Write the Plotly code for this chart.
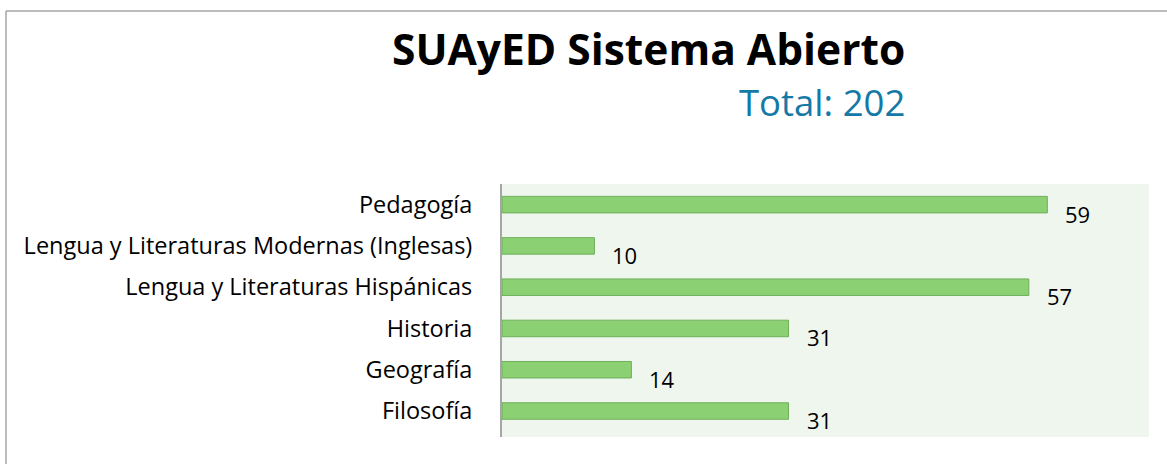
import plotly.graph_objects as go

categories = ["Filosofía", "Geografía", "Historia", "Lengua y Literaturas Hispánicas",
              "Lengua y Literaturas Modernas (Inglesas)", "Pedagogía"]
values = [31, 14, 31, 57, 10, 59]
title_text = "SUAyED Sistema Abierto"
subtitle_text = "Total: 202"

FONT = "Open Sans"
W, H = 1167, 464
L, R, T, B = 502, 18, 184, 27

fig = go.Figure()
fig.add_trace(go.Bar(
    x=values, y=categories, orientation="h",
    marker=dict(color="#8BD174", line=dict(color="#6FAF5A", width=1)),
    hoverinfo="skip",
))

for c, v in zip(categories, values):
    fig.add_annotation(x=v, y=c, xref="x", yref="y", text=str(v), showarrow=False,
                       xanchor="left", yanchor="middle", xshift=16, yshift=-9,
                       font=dict(family=FONT, size=22, color="#000000"))

fig.add_annotation(xref="paper", yref="paper", x=(907 - L) / (W - L - R), y=1,
                   yshift=T - 48, text="<b>" + title_text + "</b>", showarrow=False,
                   xanchor="right", yanchor="middle",
                   font=dict(family=FONT, size=42.5, color="#000000"))
fig.add_annotation(xref="paper", yref="paper", x=(907 - L) / (W - L - R), y=1,
                   yshift=T - 102, text=subtitle_text, showarrow=False,
                   xanchor="right", yanchor="middle",
                   font=dict(family=FONT, size=36.5, color="#1479A6"))

# partial frame (top and left)
fig.add_shape(type="line", xref="paper", yref="paper",
              x0=-(L - 6) / (W - L - R), x1=(W - L) / (W - L - R),
              y0=1 + (T - 11) / (H - T - B), y1=1 + (T - 11) / (H - T - B),
              line=dict(color="#A6A6A6", width=1.5))
fig.add_shape(type="line", xref="paper", yref="paper",
              x0=-(L - 6) / (W - L - R), x1=-(L - 6) / (W - L - R),
              y0=1 + (T - 11) / (H - T - B), y1=-B / (H - T - B),
              line=dict(color="#A6A6A6", width=1.5))

fig.update_layout(
    width=W, height=H,
    margin=dict(l=L, r=R, t=T, b=B),
    paper_bgcolor="#FFFFFF", plot_bgcolor="#EFF6EE",
    bargap=0.6, showlegend=False,
    font=dict(family=FONT, size=23.5, color="#000000"),
    xaxis=dict(range=[0, 70], showticklabels=False, showgrid=False, zeroline=False,
               fixedrange=True),
    yaxis=dict(showgrid=False, zeroline=False, showline=True, linecolor="#A6A6A6",
               linewidth=2, ticks="", ticklabelstandoff=23,
               tickfont=dict(family=FONT, size=23.5), fixedrange=True),
)

fig.write_html("out.html", config={"displayModeBar": False},
               post_script="document.body.style.margin='0';document.body.style.overflow='hidden';")
